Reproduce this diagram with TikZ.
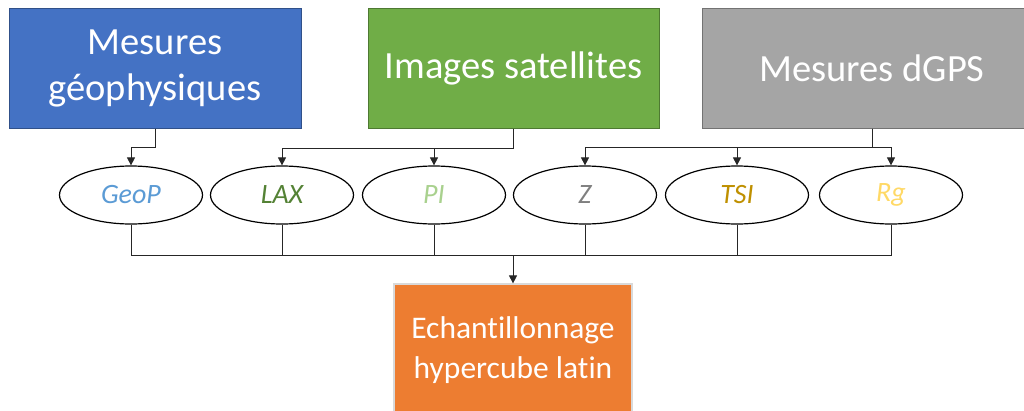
\documentclass[tikz,border=0pt]{standalone}
\usepackage{fontspec}
\setmainfont[Ligatures=NoCommon]{Carlito}
\usetikzlibrary{shapes.geometric,arrows.meta}
\definecolor{cblue}{HTML}{4472C4}
\definecolor{cgreen}{HTML}{70AD47}
\definecolor{cgray}{HTML}{A5A5A5}
\definecolor{corange}{HTML}{ED7D31}
\definecolor{tgeop}{HTML}{5B9BD5}
\definecolor{tlax}{HTML}{548235}
\definecolor{tpi}{HTML}{A9D18E}
\definecolor{tz}{HTML}{7F7F7F}
\definecolor{ttsi}{HTML}{BF9000}
\definecolor{trg}{HTML}{FFD966}
\definecolor{oborder}{HTML}{D9D9D9}
\tikzset{
  srcbox/.style={draw=#1!70!black, fill=#1, line width=1pt, text=white, align=center,
    font=\fontsize{38.5}{46}\selectfont, inner sep=0pt, minimum height=120pt},
  var/.style={ellipse, draw=black, line width=1.2pt, fill=white, minimum width=143pt,
    minimum height=58pt, inner sep=0pt, font=\fontsize{28}{30}\selectfont\itshape},
  conn/.style={draw=black!85, line width=0.8pt},
  arr/.style={conn, -{Triangle[length=8pt,width=8pt]}},
}
\begin{document}
\begin{tikzpicture}[x=1pt,y=-1pt]
\useasboundingbox (0,0) rectangle (1024,410);
\node[srcbox=cblue, minimum width=292pt] (geo) at (155,68) {Mesures\\géophysiques};
\node[srcbox=cgreen, minimum width=291pt] (sat) at (513.5,68) {Images satellites};
\node[srcbox=cgray, minimum width=340pt] (gps) at (872,68) {Mesures dGPS};
\node[var, text=tgeop] (geop) at (131,195) {GeoP};
\node[var, text=tlax] (lax) at (282,195) {LAX};
\node[var, text=tpi] (pi) at (434,195) {PI};
\node[var, text=tz] (z) at (585,195) {Z};
\node[var, text=ttsi] (tsi) at (737,195) {TSI};
\node[var, text=trg] (rg) at (891,195) {Rg};
\node[draw=oborder, line width=1.2pt, fill=corange, text=white, align=center,
  font=\fontsize{31.5}{40}\selectfont, minimum width=238pt, minimum height=132pt,
  inner sep=0pt] (lhs) at (513,350) {Echantillonnage\\hypercube latin};
\coordinate (bus) at (513,255);
\draw[arr] (geo.south) -- ++(0,19) -| (geop.north);
\draw[arr] (sat.south) -- ++(0,20) -| (lax.north);
\draw[arr] (sat.south) -- ++(0,20) -| (pi.north);
\draw[arr] (gps.south) -- ++(0,19) -| (z.north);
\draw[arr] (gps.south) -- ++(0,19) -| (tsi.north);
\draw[arr] (gps.south) -- ++(0,19) -| (rg.north);
\foreach \v in {geop,lax,pi,z,tsi,rg} \draw[conn] (\v.south) |- (bus);
\draw[arr] (bus) -- (lhs.north);
\end{tikzpicture}
\end{document}
